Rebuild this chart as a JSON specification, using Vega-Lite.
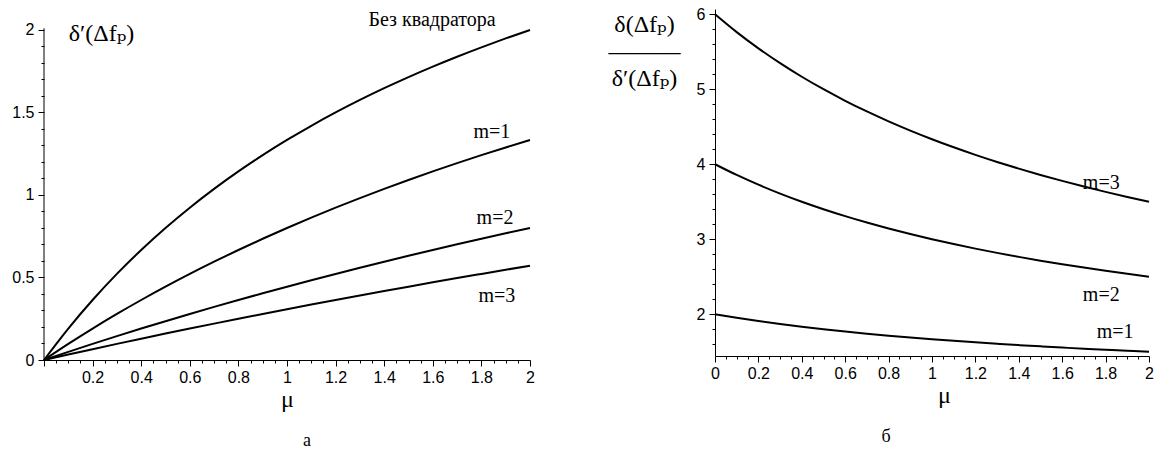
{
  "$schema": "https://vega.github.io/schema/vega-lite/v6.json",
  "background": "white",
  "padding": {"left": 11, "top": 6, "right": 0, "bottom": 0},
  "autosize": {"type": "pad"},
  "config": {
    "view": {"stroke": null},
    "axis": {
      "grid": false, "domainColor": "black", "tickColor": "black", "labelColor": "black",
      "labelFont": "Liberation Sans, Arial, sans-serif", "labelFontSize": 16, "tickSize": 4, "tickCount": 200,
      "titleFont": "Liberation Serif, Times New Roman, DejaVu Serif, serif", "titleFontWeight": "normal", "titleColor": "black",
      "labelOverlap": false, "labelFlush": false
    },
    "text": {"font": "Liberation Serif, Times New Roman, DejaVu Serif, serif", "fontSize": 20, "color": "black"}
  },
  "bounds": "flush",
  "spacing": 185,
  "datasets": {
    "left": [
      {"mu":0,"v":0,"c":"b"},{"mu":0.1,"v":0.1905,"c":"b"},{"mu":0.2,"v":0.3636,"c":"b"},{"mu":0.3,"v":0.5217,"c":"b"},{"mu":0.4,"v":0.6667,"c":"b"},{"mu":0.5,"v":0.8,"c":"b"},{"mu":0.6,"v":0.9231,"c":"b"},{"mu":0.7,"v":1.037,"c":"b"},{"mu":0.8,"v":1.1429,"c":"b"},{"mu":0.9,"v":1.2414,"c":"b"},{"mu":1,"v":1.3333,"c":"b"},{"mu":1.1,"v":1.4194,"c":"b"},{"mu":1.2,"v":1.5,"c":"b"},{"mu":1.3,"v":1.5758,"c":"b"},{"mu":1.4,"v":1.6471,"c":"b"},{"mu":1.5,"v":1.7143,"c":"b"},{"mu":1.6,"v":1.7778,"c":"b"},{"mu":1.7,"v":1.8378,"c":"b"},{"mu":1.8,"v":1.8947,"c":"b"},{"mu":1.9,"v":1.9487,"c":"b"},{"mu":2,"v":2,"c":"b"},
      {"mu":0,"v":0,"c":"1"},{"mu":0.1,"v":0.0976,"c":"1"},{"mu":0.2,"v":0.1905,"c":"1"},{"mu":0.3,"v":0.2791,"c":"1"},{"mu":0.4,"v":0.3636,"c":"1"},{"mu":0.5,"v":0.4444,"c":"1"},{"mu":0.6,"v":0.5217,"c":"1"},{"mu":0.7,"v":0.5957,"c":"1"},{"mu":0.8,"v":0.6667,"c":"1"},{"mu":0.9,"v":0.7347,"c":"1"},{"mu":1,"v":0.8,"c":"1"},{"mu":1.1,"v":0.8627,"c":"1"},{"mu":1.2,"v":0.9231,"c":"1"},{"mu":1.3,"v":0.9811,"c":"1"},{"mu":1.4,"v":1.037,"c":"1"},{"mu":1.5,"v":1.0909,"c":"1"},{"mu":1.6,"v":1.1429,"c":"1"},{"mu":1.7,"v":1.193,"c":"1"},{"mu":1.8,"v":1.2414,"c":"1"},{"mu":1.9,"v":1.2881,"c":"1"},{"mu":2,"v":1.3333,"c":"1"},
      {"mu":0,"v":0,"c":"2"},{"mu":0.1,"v":0.0494,"c":"2"},{"mu":0.2,"v":0.0976,"c":"2"},{"mu":0.3,"v":0.1446,"c":"2"},{"mu":0.4,"v":0.1905,"c":"2"},{"mu":0.5,"v":0.2353,"c":"2"},{"mu":0.6,"v":0.2791,"c":"2"},{"mu":0.7,"v":0.3218,"c":"2"},{"mu":0.8,"v":0.3636,"c":"2"},{"mu":0.9,"v":0.4045,"c":"2"},{"mu":1,"v":0.4444,"c":"2"},{"mu":1.1,"v":0.4835,"c":"2"},{"mu":1.2,"v":0.5217,"c":"2"},{"mu":1.3,"v":0.5591,"c":"2"},{"mu":1.4,"v":0.5957,"c":"2"},{"mu":1.5,"v":0.6316,"c":"2"},{"mu":1.6,"v":0.6667,"c":"2"},{"mu":1.7,"v":0.701,"c":"2"},{"mu":1.8,"v":0.7347,"c":"2"},{"mu":1.9,"v":0.7677,"c":"2"},{"mu":2,"v":0.8,"c":"2"},
      {"mu":0,"v":0,"c":"3"},{"mu":0.1,"v":0.0331,"c":"3"},{"mu":0.2,"v":0.0656,"c":"3"},{"mu":0.3,"v":0.0976,"c":"3"},{"mu":0.4,"v":0.129,"c":"3"},{"mu":0.5,"v":0.16,"c":"3"},{"mu":0.6,"v":0.1905,"c":"3"},{"mu":0.7,"v":0.2205,"c":"3"},{"mu":0.8,"v":0.25,"c":"3"},{"mu":0.9,"v":0.2791,"c":"3"},{"mu":1,"v":0.3077,"c":"3"},{"mu":1.1,"v":0.3359,"c":"3"},{"mu":1.2,"v":0.3636,"c":"3"},{"mu":1.3,"v":0.391,"c":"3"},{"mu":1.4,"v":0.4179,"c":"3"},{"mu":1.5,"v":0.4444,"c":"3"},{"mu":1.6,"v":0.4706,"c":"3"},{"mu":1.7,"v":0.4964,"c":"3"},{"mu":1.8,"v":0.5217,"c":"3"},{"mu":1.9,"v":0.5468,"c":"3"},{"mu":2,"v":0.5714,"c":"3"}
    ],
    "right": [
      {"mu":0,"v":2,"c":"1"},{"mu":0.1,"v":1.9524,"c":"1"},{"mu":0.2,"v":1.9091,"c":"1"},{"mu":0.3,"v":1.8696,"c":"1"},{"mu":0.4,"v":1.8333,"c":"1"},{"mu":0.5,"v":1.8,"c":"1"},{"mu":0.6,"v":1.7692,"c":"1"},{"mu":0.7,"v":1.7407,"c":"1"},{"mu":0.8,"v":1.7143,"c":"1"},{"mu":0.9,"v":1.6897,"c":"1"},{"mu":1,"v":1.6667,"c":"1"},{"mu":1.1,"v":1.6452,"c":"1"},{"mu":1.2,"v":1.625,"c":"1"},{"mu":1.3,"v":1.6061,"c":"1"},{"mu":1.4,"v":1.5882,"c":"1"},{"mu":1.5,"v":1.5714,"c":"1"},{"mu":1.6,"v":1.5556,"c":"1"},{"mu":1.7,"v":1.5405,"c":"1"},{"mu":1.8,"v":1.5263,"c":"1"},{"mu":1.9,"v":1.5128,"c":"1"},{"mu":2,"v":1.5,"c":"1"},
      {"mu":0,"v":4,"c":"2"},{"mu":0.1,"v":3.8571,"c":"2"},{"mu":0.2,"v":3.7273,"c":"2"},{"mu":0.3,"v":3.6087,"c":"2"},{"mu":0.4,"v":3.5,"c":"2"},{"mu":0.5,"v":3.4,"c":"2"},{"mu":0.6,"v":3.3077,"c":"2"},{"mu":0.7,"v":3.2222,"c":"2"},{"mu":0.8,"v":3.1429,"c":"2"},{"mu":0.9,"v":3.069,"c":"2"},{"mu":1,"v":3,"c":"2"},{"mu":1.1,"v":2.9355,"c":"2"},{"mu":1.2,"v":2.875,"c":"2"},{"mu":1.3,"v":2.8182,"c":"2"},{"mu":1.4,"v":2.7647,"c":"2"},{"mu":1.5,"v":2.7143,"c":"2"},{"mu":1.6,"v":2.6667,"c":"2"},{"mu":1.7,"v":2.6216,"c":"2"},{"mu":1.8,"v":2.5789,"c":"2"},{"mu":1.9,"v":2.5385,"c":"2"},{"mu":2,"v":2.5,"c":"2"},
      {"mu":0,"v":6,"c":"3"},{"mu":0.1,"v":5.7619,"c":"3"},{"mu":0.2,"v":5.5455,"c":"3"},{"mu":0.3,"v":5.3478,"c":"3"},{"mu":0.4,"v":5.1667,"c":"3"},{"mu":0.5,"v":5,"c":"3"},{"mu":0.6,"v":4.8462,"c":"3"},{"mu":0.7,"v":4.7037,"c":"3"},{"mu":0.8,"v":4.5714,"c":"3"},{"mu":0.9,"v":4.4483,"c":"3"},{"mu":1,"v":4.3333,"c":"3"},{"mu":1.1,"v":4.2258,"c":"3"},{"mu":1.2,"v":4.125,"c":"3"},{"mu":1.3,"v":4.0303,"c":"3"},{"mu":1.4,"v":3.9412,"c":"3"},{"mu":1.5,"v":3.8571,"c":"3"},{"mu":1.6,"v":3.7778,"c":"3"},{"mu":1.7,"v":3.7027,"c":"3"},{"mu":1.8,"v":3.6316,"c":"3"},{"mu":1.9,"v":3.5641,"c":"3"},{"mu":2,"v":3.5,"c":"3"}
    ],
    "leftLabels": [
      {"mu":1.843,"v":1.38,"t":"m=1"},{"mu":1.856,"v":0.86,"t":"m=2"},{"mu":1.864,"v":0.388,"t":"m=3"},{"mu":1.597,"v":2.06,"t":"Без квадратора"}
    ],
    "rightLabels": [
      {"mu":1.78,"v":3.75,"t":"m=3"},{"mu":1.78,"v":2.25,"t":"m=2"},{"mu":1.844,"v":1.76,"t":"m=1"}
    ],
    "leftAxisLine": [{"mu":0,"lo":0,"hi":2.01}]
  },
  "hconcat": [
    {
      "width": 486,
      "height": 351,
      "title": {"text": "а", "orient": "bottom", "font": "Liberation Serif, Times New Roman, DejaVu Serif, serif", "fontSize": 18, "fontWeight": "normal", "color": "black", "dx": 20, "offset": 21},
      "layer": [
        {
          "data": {"name": "left"},
          "mark": {"type": "line", "color": "black", "strokeWidth": 2, "interpolate": "monotone"},
          "encoding": {
            "x": {"field": "mu", "type": "quantitative", "scale": {"domain": [0, 2], "nice": false, "zero": false},
              "axis": {"title": "μ", "titleFontSize": 24, "titlePadding": 2,
                "values": [0,0.05,0.1,0.15,0.2,0.25,0.3,0.35,0.4,0.45,0.5,0.55,0.6,0.65,0.7,0.75,0.8,0.85,0.9,0.95,1,1.05,1.1,1.15,1.2,1.25,1.3,1.35,1.4,1.45,1.5,1.55,1.6,1.65,1.7,1.75,1.8,1.85,1.9,1.95,2],
                "tickSize": {"condition": {"test": "abs(datum.value*5 - round(datum.value*5)) < 0.001", "value": 6}, "value": 3},
                "labelExpr": "abs(datum.value*5 - round(datum.value*5)) < 0.001 && datum.value > 0.001 ? format(datum.value, '~g') : ''",
                "labelPadding": 3}},
            "y": {"field": "v", "type": "quantitative", "scale": {"domain": [0, 2.127], "nice": false, "zero": false},
              "axis": {"title": "δ′(Δfₚ)", "titleFontSize": 24, "titleAngle": 0, "titleAlign": "center", "titleBaseline": "middle", "titleX": 57, "titleY": 24,
                "domain": false, "labelPadding": 4,
                "tickSize": {"condition": {"test": "abs(datum.value*2 - round(datum.value*2)) < 0.001", "value": 6}, "value": 3},
                "values": [0,0.1,0.2,0.3,0.4,0.5,0.6,0.7,0.8,0.9,1,1.1,1.2,1.3,1.4,1.5,1.6,1.7,1.8,1.9,2],
                "labelExpr": "abs(datum.value*2 - round(datum.value*2)) < 0.001 ? format(datum.value, '~g') : ''"}},
            "detail": {"field": "c"}
          }
        },
        {
          "data": {"name": "leftAxisLine"},
          "mark": {"type": "rule", "color": "black", "strokeWidth": 1},
          "encoding": {
            "x": {"field": "mu", "type": "quantitative"},
            "y": {"field": "lo", "type": "quantitative"},
            "y2": {"field": "hi"}
          }
        },
        {
          "data": {"name": "leftLabels"},
          "mark": {"type": "text", "align": "center", "baseline": "middle", "font": "Liberation Serif, Times New Roman, DejaVu Serif, serif"},
          "encoding": {
            "x": {"field": "mu", "type": "quantitative"},
            "y": {"field": "v", "type": "quantitative"},
            "text": {"field": "t"}
          }
        }
      ]
    },
    {
      "width": 434,
      "height": 347,
      "title": {"text": "б", "orient": "bottom", "font": "Liberation Serif, Times New Roman, DejaVu Serif, serif", "fontSize": 18, "fontWeight": "normal", "color": "black", "dx": -46, "offset": 21},
      "layer": [
        {
          "data": {"name": "right"},
          "mark": {"type": "line", "color": "black", "strokeWidth": 2, "interpolate": "monotone"},
          "encoding": {
            "x": {"field": "mu", "type": "quantitative", "scale": {"domain": [0, 2], "nice": false, "zero": false},
              "axis": {"title": "μ", "titleFontSize": 24, "titlePadding": 2, "titleX": 229,
                "values": [0,0.05,0.1,0.15,0.2,0.25,0.3,0.35,0.4,0.45,0.5,0.55,0.6,0.65,0.7,0.75,0.8,0.85,0.9,0.95,1,1.05,1.1,1.15,1.2,1.25,1.3,1.35,1.4,1.45,1.5,1.55,1.6,1.65,1.7,1.75,1.8,1.85,1.9,1.95,2],
                "tickSize": {"condition": {"test": "abs(datum.value*5 - round(datum.value*5)) < 0.001", "value": 6}, "value": 3},
                "labelExpr": "abs(datum.value*5 - round(datum.value*5)) < 0.001 ? format(datum.value, '~g') : ''",
                "labelPadding": 3}},
            "y": {"field": "v", "type": "quantitative", "scale": {"domain": [1.443, 6.07], "nice": false, "zero": false},
              "axis": {"title": ["δ(Δfₚ)", "———", "δ′(Δfₚ)"], "titleFontSize": 24, "titleLineHeight": 27, "titleAngle": 0, "titleAlign": "center", "titleBaseline": "top", "titleX": -71, "titleY": 3,
                "labelPadding": 4,
                "tickSize": {"condition": {"test": "abs(datum.value - round(datum.value)) < 0.001", "value": 6}, "value": 3},
                "values": [1.6,1.8,2,2.2,2.4,2.6,2.8,3,3.2,3.4,3.6,3.8,4,4.2,4.4,4.6,4.8,5,5.2,5.4,5.6,5.8,6],
                "labelExpr": "abs(datum.value - round(datum.value)) < 0.001 ? format(datum.value, '~g') : ''"}},
            "detail": {"field": "c"}
          }
        },
        {
          "data": {"name": "rightLabels"},
          "mark": {"type": "text", "align": "center", "baseline": "middle", "font": "Liberation Serif, Times New Roman, DejaVu Serif, serif"},
          "encoding": {
            "x": {"field": "mu", "type": "quantitative"},
            "y": {"field": "v", "type": "quantitative"},
            "text": {"field": "t"}
          }
        }
      ]
    }
  ]
}
